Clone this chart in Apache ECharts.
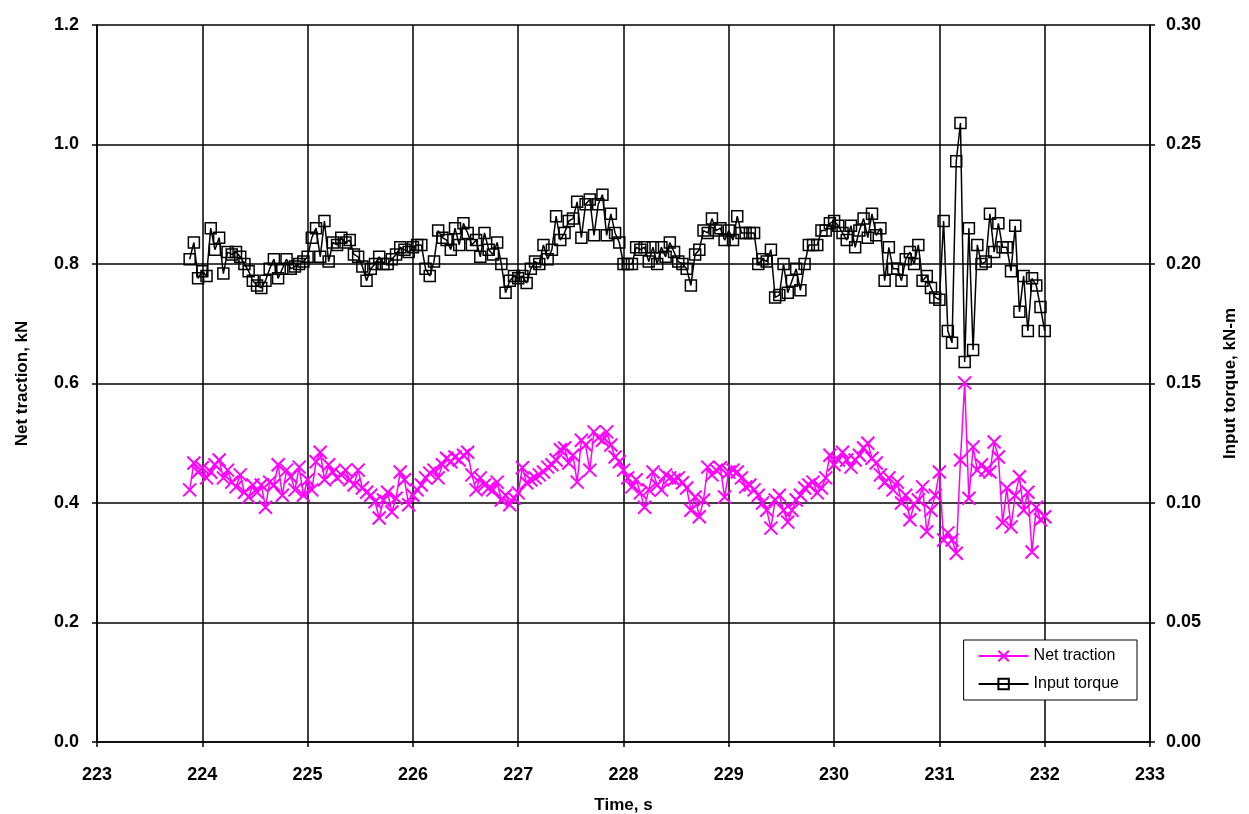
<!DOCTYPE html>
<html>
<head>
<meta charset="utf-8">
<script src="https://cdn.jsdelivr.net/npm/echarts@6/dist/echarts.min.js"></script>
<style>
  html, body { margin: 0; padding: 0; background: #fff; }
  #chart { width: 1249px; height: 814px; }
</style>
</head>
<body>
<div id="chart"></div>
<script>
// time, s
const time = [
  223.88, 223.92, 223.96, 224.00, 224.04, 224.08, 224.12, 224.16, 224.20, 224.24,
  224.28, 224.32, 224.36, 224.40, 224.44, 224.48, 224.52, 224.56, 224.60, 224.64,
  224.68, 224.72, 224.76, 224.80, 224.84, 224.88, 224.92, 224.96, 225.00, 225.04,
  225.08, 225.12, 225.16, 225.20, 225.24, 225.28, 225.32, 225.36, 225.40, 225.44,
  225.48, 225.52, 225.56, 225.60, 225.64, 225.68, 225.72, 225.76, 225.80, 225.84,
  225.88, 225.92, 225.96, 226.00, 226.04, 226.08, 226.12, 226.16, 226.20, 226.24,
  226.28, 226.32, 226.36, 226.40, 226.44, 226.48, 226.52, 226.56, 226.60, 226.64,
  226.68, 226.72, 226.76, 226.80, 226.84, 226.88, 226.92, 226.96, 227.00, 227.04,
  227.08, 227.12, 227.16, 227.20, 227.24, 227.28, 227.32, 227.36, 227.40, 227.44,
  227.48, 227.52, 227.56, 227.60, 227.64, 227.68, 227.72, 227.76, 227.80, 227.84,
  227.88, 227.92, 227.96, 228.00, 228.04, 228.08, 228.12, 228.16, 228.20, 228.24,
  228.28, 228.32, 228.36, 228.40, 228.44, 228.48, 228.52, 228.56, 228.60, 228.64,
  228.68, 228.72, 228.76, 228.80, 228.84, 228.88, 228.92, 228.96, 229.00, 229.04,
  229.08, 229.12, 229.16, 229.20, 229.24, 229.28, 229.32, 229.36, 229.40, 229.44,
  229.48, 229.52, 229.56, 229.60, 229.64, 229.68, 229.72, 229.76, 229.80, 229.84,
  229.88, 229.92, 229.96, 230.00, 230.04, 230.08, 230.12, 230.16, 230.20, 230.24,
  230.28, 230.32, 230.36, 230.40, 230.44, 230.48, 230.52, 230.56, 230.60, 230.64,
  230.68, 230.72, 230.76, 230.80, 230.84, 230.88, 230.92, 230.96, 231.00, 231.04,
  231.08, 231.12, 231.16, 231.20, 231.24, 231.28, 231.32, 231.36, 231.40, 231.44,
  231.48, 231.52, 231.56, 231.60, 231.64, 231.68, 231.72, 231.76, 231.80, 231.84,
  231.88, 231.92, 231.96, 232.00
]

// net traction, kN
const netTraction = [
  0.422, 0.467, 0.452, 0.459, 0.442, 0.452, 0.464, 0.472, 0.442, 0.455,
  0.435, 0.427, 0.447, 0.418, 0.410, 0.430, 0.418, 0.430, 0.393, 0.435,
  0.430, 0.464, 0.413, 0.455, 0.444, 0.422, 0.460, 0.413, 0.439, 0.422,
  0.469, 0.485, 0.439, 0.464, 0.452, 0.442, 0.447, 0.455, 0.439, 0.430,
  0.455, 0.425, 0.418, 0.413, 0.402, 0.375, 0.405, 0.418, 0.385, 0.408,
  0.452, 0.439, 0.397, 0.413, 0.422, 0.430, 0.442, 0.450, 0.455, 0.442,
  0.464, 0.475, 0.469, 0.477, 0.472, 0.480, 0.485, 0.447, 0.422, 0.442,
  0.430, 0.425, 0.422, 0.435, 0.405, 0.413, 0.397, 0.408, 0.417, 0.459,
  0.434, 0.439, 0.442, 0.447, 0.452, 0.460, 0.464, 0.472, 0.489, 0.492,
  0.467, 0.480, 0.435, 0.505, 0.497, 0.455, 0.519, 0.509, 0.505, 0.519,
  0.497, 0.477, 0.469, 0.455, 0.442, 0.427, 0.439, 0.417, 0.393, 0.422,
  0.452, 0.430, 0.422, 0.447, 0.442, 0.439, 0.442, 0.434, 0.425, 0.388,
  0.410, 0.377, 0.405, 0.460, 0.447, 0.455, 0.459, 0.410, 0.452, 0.455,
  0.452, 0.442, 0.427, 0.430, 0.422, 0.413, 0.400, 0.388, 0.358, 0.405,
  0.413, 0.388, 0.368, 0.388, 0.405, 0.413, 0.425, 0.430, 0.435, 0.417,
  0.425, 0.442, 0.480, 0.464, 0.472, 0.485, 0.472, 0.460, 0.472, 0.480,
  0.492, 0.500, 0.475, 0.467, 0.447, 0.434, 0.442, 0.422, 0.435, 0.400,
  0.413, 0.372, 0.397, 0.405, 0.427, 0.352, 0.388, 0.413, 0.452, 0.338,
  0.350, 0.338, 0.316, 0.472, 0.601, 0.408, 0.494, 0.455, 0.464, 0.455,
  0.452, 0.502, 0.477, 0.367, 0.425, 0.360, 0.413, 0.444, 0.388, 0.418,
  0.318, 0.393, 0.372, 0.377
]

// input torque, kN-m
const inputTorque = [
  0.202, 0.209, 0.194, 0.197, 0.195, 0.215, 0.206, 0.211, 0.196, 0.205,
  0.204, 0.205, 0.203, 0.200, 0.197, 0.193, 0.191, 0.190, 0.193, 0.198,
  0.202, 0.194, 0.198, 0.202, 0.198, 0.199, 0.200, 0.201, 0.203, 0.211,
  0.215, 0.203, 0.218, 0.201, 0.209, 0.208, 0.211, 0.209, 0.210, 0.204,
  0.203, 0.199, 0.193, 0.198, 0.200, 0.203, 0.200, 0.200, 0.202, 0.204,
  0.207, 0.206, 0.205, 0.207, 0.208, 0.208, 0.198, 0.195, 0.201, 0.214,
  0.211, 0.210, 0.206, 0.215, 0.208, 0.217, 0.213, 0.208, 0.210, 0.203,
  0.213, 0.206, 0.204, 0.209, 0.200, 0.188, 0.193, 0.195, 0.194, 0.195,
  0.192, 0.198, 0.201, 0.200, 0.208, 0.202, 0.206, 0.220, 0.210, 0.213,
  0.218, 0.219, 0.226, 0.211, 0.225, 0.227, 0.212, 0.225, 0.229, 0.212,
  0.221, 0.213, 0.209, 0.200, 0.200, 0.200, 0.207, 0.206, 0.207, 0.201,
  0.207, 0.200, 0.207, 0.203, 0.209, 0.205, 0.201, 0.200, 0.198, 0.191,
  0.204, 0.206, 0.214, 0.213, 0.219, 0.214, 0.215, 0.210, 0.214, 0.210,
  0.220, 0.213, 0.213, 0.213, 0.213, 0.200, 0.202, 0.201, 0.206, 0.186,
  0.187, 0.200, 0.188, 0.193, 0.198, 0.189, 0.200, 0.208, 0.208, 0.208,
  0.214, 0.214, 0.217, 0.218, 0.216, 0.213, 0.210, 0.216, 0.207, 0.214,
  0.219, 0.211, 0.221, 0.212, 0.215, 0.193, 0.207, 0.198, 0.198, 0.193,
  0.202, 0.205, 0.200, 0.208, 0.193, 0.195, 0.190, 0.186, 0.185, 0.218,
  0.172, 0.167, 0.243, 0.259, 0.159, 0.215, 0.164, 0.208, 0.200, 0.201,
  0.221, 0.205, 0.217, 0.207, 0.207, 0.197, 0.216, 0.180, 0.195, 0.172,
  0.194, 0.191, 0.182, 0.172
]

const tractionPts = time.map((t, i) => [t, netTraction[i]])
const torquePts = time.map((t, i) => [t, inputTorque[i]])

const fontFamily = '"Liberation Sans", Arial, sans-serif'
const labelStyle = { color: '#000', fontSize: 18, fontWeight: 'bold', fontFamily: fontFamily }
const nameStyle = { color: '#000', fontSize: 17, fontWeight: 'bold', fontFamily: fontFamily }

const chartDom = echarts.init(document.getElementById('chart'))
const option = {
  animation: false,
  backgroundColor: '#fff',
  grid: { left: 97, right: 99, top: 25, bottom: 72, containLabel: false, outerBoundsMode: 'none' },
  legend: {
    right: 112,
    top: 640,
    orient: 'vertical',
    backgroundColor: '#fff',
    borderColor: '#000',
    borderWidth: 1,
    borderRadius: 0,
    padding: [8, 18, 8, 14],
    itemGap: 12,
    itemWidth: 50,
    itemHeight: 13,
    textStyle: { color: '#000', fontSize: 16, fontFamily: fontFamily },
    data: ['Net traction', 'Input torque'],
  },
  xAxis: {
    type: 'value',
    min: 223,
    max: 233,
    interval: 1,
    name: 'Time, s',
    nameLocation: 'middle',
    nameGap: 55,
    nameTextStyle: nameStyle,
    axisLine: { show: true, lineStyle: { color: '#000', width: 1.5 } },
    axisTick: { show: true, length: 5, lineStyle: { color: '#000', width: 1.5 } },
    axisLabel: { ...labelStyle, margin: 24 },
    splitLine: { show: true, lineStyle: { color: '#000', width: 1.5 } },
  },
  yAxis: [
    {
      type: 'value',
      min: 0,
      max: 1.2,
      interval: 0.2,
      name: 'Net traction, kN',
      nameLocation: 'middle',
      nameGap: 66,
      nameTextStyle: nameStyle,
      axisLine: { show: true, lineStyle: { color: '#000', width: 1.5 } },
      axisTick: { show: true, length: 5, lineStyle: { color: '#000', width: 1.5 } },
      axisLabel: { ...labelStyle, margin: 18, formatter: v => v.toFixed(1) },
      splitLine: { show: true, lineStyle: { color: '#000', width: 1.5 } },
    },
    {
      type: 'value',
      min: 0,
      max: 0.3,
      interval: 0.05,
      name: 'Input torque, kN-m',
      nameLocation: 'middle',
      nameGap: 72,
      nameRotate: 90,
      nameTextStyle: nameStyle,
      axisLine: { show: true, lineStyle: { color: '#000', width: 1.5 } },
      axisTick: { show: true, length: 5, lineStyle: { color: '#000', width: 1.5 } },
      axisLabel: { ...labelStyle, margin: 16, formatter: v => v.toFixed(2) },
      splitLine: { show: false },
    },
  ],
  series: [
    {
      name: 'Net traction',
      type: 'line',
      yAxisIndex: 0,
      data: tractionPts,
      symbol: 'path://M0,0L10,10M10,0L0,10',
      symbolSize: 13,
      showAllSymbol: true,
      lineStyle: { color: '#ff00ff', width: 1.5 },
      itemStyle: { color: 'rgba(0,0,0,0)', borderColor: '#ff00ff', borderWidth: 2 },
      emphasis: { disabled: true },
      z: 3,
    },
    {
      name: 'Input torque',
      type: 'line',
      yAxisIndex: 1,
      data: torquePts,
      symbol: 'rect',
      symbolSize: 11,
      showAllSymbol: true,
      lineStyle: { color: '#000', width: 1.5 },
      itemStyle: { color: 'rgba(0,0,0,0)', borderColor: '#000', borderWidth: 1.5 },
      emphasis: { disabled: true },
      z: 4,
    },
  ],
}
chartDom.setOption(option)
</script>
</body>
</html>
